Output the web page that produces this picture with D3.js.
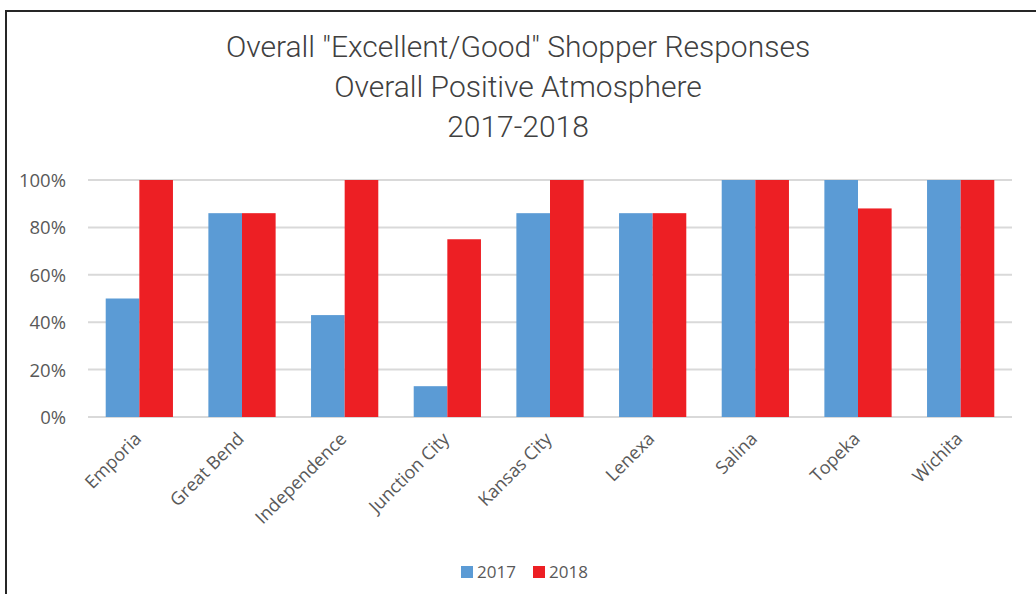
<!DOCTYPE html>
<html><head><meta charset="utf-8">
<script src="https://cdn.jsdelivr.net/npm/d3@7"></script>
<style>
html,body{margin:0;padding:0;background:#fff;}
svg{display:block;}
text{font-family:"Roboto",sans-serif;fill:#595959;}
</style></head>
<body>
<svg id="chart" width="1036" height="594"></svg>
<script>
const categories = ["Emporia","Great Bend","Independence","Junction City","Kansas City","Lenexa","Salina","Topeka","Wichita"];
const values2017 = [0.50, 0.86, 0.43, 0.13, 0.86, 0.86, 1.00, 1.00, 1.00];
const values2018 = [1.00, 0.86, 1.00, 0.75, 1.00, 0.86, 1.00, 0.88, 1.00];
const seriesNames = ["2017","2018"];
const seriesColors = ["#5B9BD5","#ED1F24"];
const yTicks = [0,0.2,0.4,0.6,0.8,1.0];
const titleLines = ['Overall "Excellent/Good" Shopper Responses','Overall Positive Atmosphere','2017-2018'];

(function(){
const svg = d3.select("#chart");
svg.append("rect").attr("x",6).attr("y",11).attr("width",1040).attr("height",600)
  .attr("fill","none").attr("stroke","#262626").attr("stroke-width",2);

const pl=88, pr=1012, pt=180, pb=417;
const x0 = d3.scaleBand().domain(categories).range([pl,pr]).paddingInner(0.345).paddingOuter(0.1725);
const x1 = d3.scaleBand().domain(seriesNames).range([0,x0.bandwidth()]);
const y = d3.scaleLinear().domain([0,1]).range([pb,pt]);

svg.append("g").selectAll("line").data(yTicks).join("line")
  .attr("x1",pl).attr("x2",pr).attr("y1",d=>y(d)).attr("y2",d=>y(d))
  .attr("stroke","#D9D9D9").attr("stroke-width",2);

const yAxis = d3.axisLeft(y).tickValues(yTicks).tickFormat(d3.format(".0%")).tickSize(0).tickPadding(22);
const gy = svg.append("g").attr("transform",`translate(${pl},0)`).call(yAxis);
gy.select(".domain").remove();
gy.selectAll("text").style("font-family",'"Open Sans",sans-serif').style("font-size","18.5px").attr("fill","#595959").attr("dy","0.35em");

const data = categories.map((c,i)=>({c, v:[values2017[i],values2018[i]]}));
const groups = svg.append("g").selectAll("g").data(data).join("g")
  .attr("transform",d=>`translate(${x0(d.c)},0)`);
groups.selectAll("rect").data(d=>d.v.map((v,j)=>({s:seriesNames[j],v,j}))).join("rect")
  .attr("x",d=>x1(d.s)).attr("width",x1.bandwidth())
  .attr("y",d=>y(d.v)).attr("height",d=>y(0)-y(d.v))
  .attr("fill",d=>seriesColors[d.j]);

const xAxis = d3.axisBottom(x0).tickSize(0).tickPadding(0);
const gx = svg.append("g").attr("transform",`translate(0,${pb})`).call(xAxis);
gx.select(".domain").remove();
gx.selectAll("text")
  .style("font-family",'"Open Sans",sans-serif').style("font-size","18px").attr("fill","#595959")
  .attr("text-anchor","end").attr("dy","0").attr("y",0)
  .attr("transform","translate(3,23) rotate(-45)");

svg.append("g").selectAll("text").data(titleLines).join("text")
  .attr("x",518).attr("y",(d,i)=>57+i*40).attr("text-anchor","middle")
  .style("font-size","30px").style("font-weight","300").style("fill","#404040").text(d=>d);

const legend = svg.append("g").attr("transform","translate(461,566)");
const items = legend.selectAll("g").data(seriesNames).join("g")
  .attr("transform",(d,i)=>`translate(${i*72},0)`);
items.append("rect").attr("width",12).attr("height",12).attr("fill",(d,i)=>seriesColors[i]);
items.append("text").attr("x",16).attr("y",6).attr("dy","0.35em")
  .style("font-family",'"Open Sans",sans-serif').style("font-size","17px").text(d=>d);
})();
</script>
</body></html>
